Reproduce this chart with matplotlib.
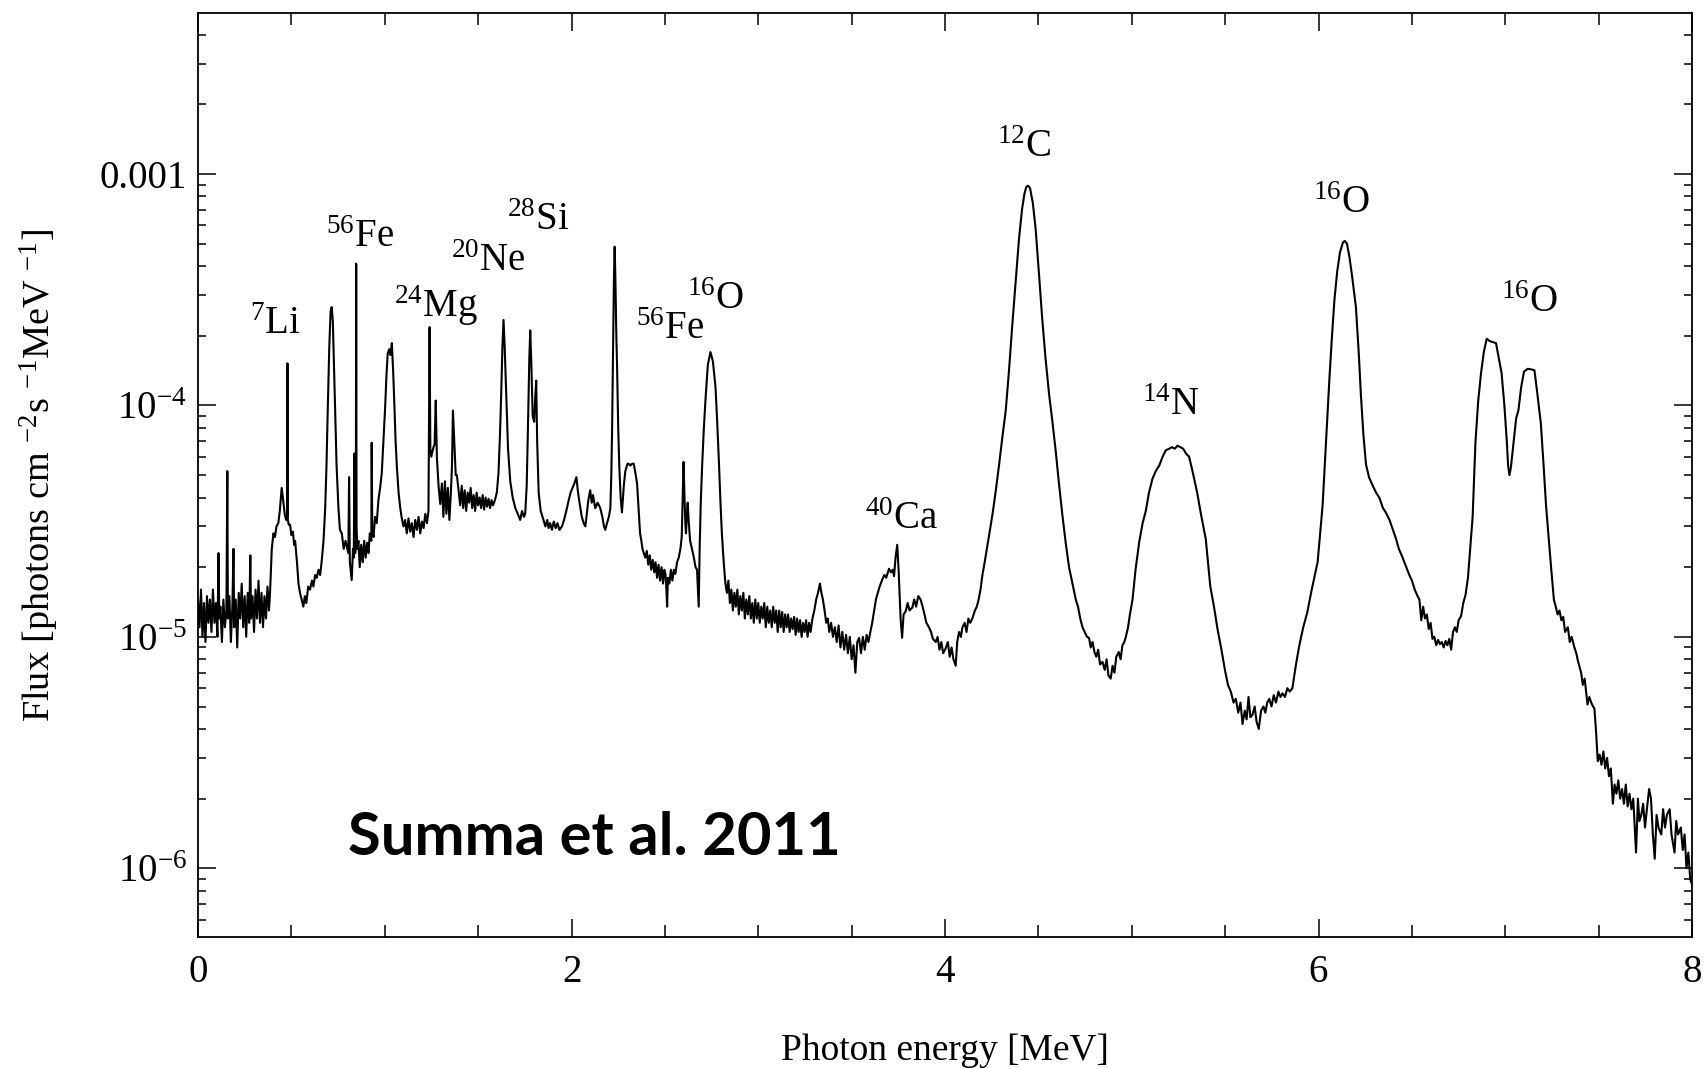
import numpy as np
import matplotlib
matplotlib.use("Agg")
import matplotlib.pyplot as plt
from matplotlib.ticker import LogLocator, MultipleLocator, NullFormatter

# spectrum: (energy [MeV], flux [1e-5 photons cm^-2 s^-1 MeV^-1])
seg_low = np.array([
    (0.000, 1.45), (0.008, 1.10), (0.016, 1.60), (0.024, 1.00), (0.032, 1.40),
    (0.040, 0.95), (0.048, 1.50), (0.056, 1.15), (0.064, 1.45), (0.072, 1.05),
    (0.080, 1.60), (0.088, 1.15), (0.096, 1.40), (0.104, 1.00), (0.110, 2.30),
    (0.114, 1.20), (0.120, 1.35), (0.128, 0.95), (0.136, 1.45), (0.144, 1.10),
    (0.152, 1.30), (0.157, 5.20), (0.160, 1.20), (0.168, 1.50), (0.176, 0.95),
    (0.184, 1.35), (0.190, 2.40), (0.194, 1.10), (0.202, 1.45), (0.210, 0.90),
    (0.218, 1.55), (0.226, 1.20), (0.234, 1.70), (0.242, 1.10), (0.250, 1.50),
    (0.258, 1.00), (0.266, 1.55), (0.274, 1.15), (0.280, 2.25), (0.284, 1.20),
    (0.292, 1.50), (0.300, 1.05), (0.308, 1.60), (0.316, 1.20), (0.324, 1.75),
    (0.332, 1.15), (0.340, 1.55), (0.348, 1.10), (0.356, 1.50), (0.364, 1.20),
    (0.372, 1.65), (0.380, 1.30),
])

seg_li_fe = np.array([
    (0.386, 1.57), (0.395, 2.40), (0.404, 2.80), (0.412, 2.70), (0.420, 3.00),
    (0.430, 3.10), (0.438, 3.50), (0.448, 4.40), (0.456, 3.90), (0.464, 3.40),
    (0.472, 3.20), (0.477, 3.30), (0.479, 15.2), (0.481, 3.20), (0.486, 3.05),
    (0.493, 3.05), (0.500, 2.75), (0.508, 2.85), (0.515, 2.50), (0.520, 2.60),
    (0.530, 2.10), (0.538, 1.70), (0.546, 1.55), (0.555, 1.45), (0.564, 1.35),
    (0.572, 1.50), (0.580, 1.40), (0.590, 1.65), (0.600, 1.60), (0.610, 1.75),
    (0.618, 1.65), (0.627, 1.85), (0.636, 1.80), (0.645, 1.95), (0.654, 1.85),
    (0.663, 2.15), (0.672, 2.60), (0.681, 3.60), (0.688, 5.50), (0.695, 9.80),
    (0.703, 18.0), (0.710, 25.5), (0.716, 26.6), (0.722, 23.0), (0.728, 15.0),
    (0.734, 9.80), (0.742, 5.50), (0.752, 3.60), (0.760, 2.90), (0.770, 2.80),
    (0.780, 2.40), (0.790, 2.60), (0.797, 2.45), (0.805, 2.30), (0.809, 4.90),
    (0.813, 2.10), (0.823, 1.76), (0.830, 2.40), (0.834, 2.20), (0.838, 6.20),
    (0.842, 2.30), (0.845, 3.00), (0.847, 41.0), (0.849, 3.00), (0.853, 2.40),
    (0.859, 2.60), (0.866, 2.00), (0.874, 2.50), (0.882, 2.10), (0.890, 2.60),
    (0.898, 2.20), (0.906, 2.55), (0.913, 2.30), (0.920, 2.80), (0.928, 2.60),
    (0.930, 6.90), (0.933, 2.90), (0.940, 2.70), (0.948, 3.30), (0.957, 3.10),
    (0.966, 3.90), (0.975, 4.40), (0.984, 5.10), (0.993, 7.00), (1.002, 9.80),
    (1.009, 13.5), (1.016, 16.8), (1.024, 17.5), (1.031, 16.5), (1.038, 18.6),
    (1.045, 14.0), (1.052, 9.80), (1.058, 7.00), (1.065, 5.40), (1.074, 4.20),
    (1.083, 3.60), (1.090, 3.30), (1.100, 3.00), (1.109, 3.20), (1.118, 2.80),
    (1.127, 3.25), (1.136, 2.85), (1.145, 3.10), (1.154, 2.70), (1.163, 3.20),
    (1.172, 2.90), (1.181, 3.30), (1.190, 2.80), (1.199, 3.15), (1.208, 2.95),
    (1.217, 3.40), (1.226, 3.10), (1.234, 3.50), (1.240, 21.8), (1.244, 6.50),
    (1.249, 6.00), (1.255, 6.30), (1.261, 6.60), (1.267, 6.80), (1.273, 10.5),
    (1.279, 6.00), (1.288, 4.50), (1.297, 3.75), (1.306, 4.60), (1.314, 3.30),
    (1.322, 4.70), (1.330, 3.40), (1.338, 4.40), (1.346, 3.20), (1.354, 4.20),
    (1.360, 5.50), (1.365, 9.50), (1.372, 7.00), (1.380, 5.00), (1.386, 5.00),
    (1.395, 4.30), (1.404, 3.70), (1.412, 4.50), (1.420, 3.60), (1.428, 4.30),
    (1.436, 3.50), (1.444, 4.20), (1.452, 3.80), (1.460, 4.40), (1.468, 3.60),
    (1.476, 4.10), (1.484, 3.50), (1.492, 4.20), (1.500, 3.70), (1.508, 4.00),
    (1.516, 3.60), (1.524, 4.10), (1.532, 3.55), (1.540, 4.00), (1.548, 3.65),
    (1.556, 3.95), (1.564, 3.60), (1.572, 3.90), (1.580, 3.70), (1.590, 3.90),
    (1.600, 4.20), (1.609, 5.10), (1.617, 7.50), (1.624, 11.6), (1.630, 18.0),
    (1.636, 23.4), (1.642, 18.0), (1.650, 11.6), (1.660, 6.50), (1.672, 4.70),
    (1.685, 4.00), (1.699, 3.60), (1.712, 3.40), (1.725, 3.20),
])

seg_si_o = np.array([
    (1.735, 3.50), (1.745, 3.30), (1.752, 3.40), (1.760, 4.50), (1.768, 9.00),
    (1.774, 16.0), (1.779, 21.1), (1.785, 15.0), (1.792, 9.00), (1.800, 8.50),
    (1.806, 11.0), (1.811, 12.8), (1.816, 7.00), (1.824, 4.20), (1.835, 3.50),
    (1.850, 3.20), (1.860, 3.00), (1.870, 3.20), (1.877, 2.95), (1.885, 3.10),
    (1.895, 2.90), (1.905, 3.15), (1.915, 2.95), (1.925, 3.10), (1.935, 2.90),
    (1.949, 3.00), (1.960, 3.20), (1.972, 3.50), (1.985, 3.90), (1.995, 4.20),
    (2.005, 4.40), (2.015, 4.60), (2.026, 4.90), (2.035, 4.20), (2.045, 3.70),
    (2.055, 3.30), (2.065, 3.10), (2.074, 3.00), (2.082, 3.40), (2.090, 3.90),
    (2.100, 4.30), (2.108, 3.80), (2.115, 4.10), (2.127, 3.60), (2.140, 3.80),
    (2.154, 3.60), (2.165, 3.30), (2.174, 3.00), (2.181, 2.90), (2.190, 3.10),
    (2.200, 3.30), (2.208, 3.60), (2.213, 5.00), (2.217, 7.60), (2.222, 16.0),
    (2.227, 35.0), (2.231, 48.5), (2.235, 35.0), (2.240, 20.0), (2.244, 14.6),
    (2.250, 8.00), (2.256, 5.40), (2.263, 4.00), (2.270, 3.45), (2.280, 4.50),
    (2.288, 5.20), (2.294, 5.40), (2.300, 5.60), (2.306, 5.60), (2.315, 5.50),
    (2.325, 5.60), (2.333, 5.60), (2.342, 5.10), (2.351, 4.60), (2.360, 3.50),
    (2.367, 2.80), (2.374, 2.60), (2.380, 2.40), (2.387, 2.30), (2.395, 2.20),
    (2.403, 2.35), (2.411, 2.05), (2.419, 2.25), (2.427, 1.95), (2.435, 2.15),
    (2.443, 1.90), (2.450, 2.10), (2.458, 1.80), (2.466, 2.05), (2.474, 1.75),
    (2.482, 2.00), (2.490, 1.70), (2.497, 1.95), (2.503, 1.87), (2.508, 1.60),
    (2.512, 1.35), (2.516, 1.80), (2.524, 1.70), (2.532, 1.95), (2.540, 1.75),
    (2.548, 1.95), (2.556, 1.87), (2.565, 2.10), (2.574, 2.20), (2.583, 2.40),
    (2.590, 2.70), (2.597, 4.50), (2.600, 5.70), (2.605, 4.00), (2.610, 3.00),
    (2.613, 2.80), (2.617, 3.30), (2.622, 3.80), (2.627, 3.20), (2.635, 2.60),
    (2.645, 2.40), (2.655, 2.20), (2.664, 2.00), (2.672, 1.95), (2.677, 1.60),
    (2.681, 1.35), (2.686, 2.40), (2.692, 3.80), (2.699, 5.40), (2.708, 7.80),
    (2.717, 10.5), (2.730, 15.0), (2.744, 17.0), (2.757, 15.5), (2.771, 12.0),
    (2.780, 8.50), (2.790, 5.50), (2.797, 3.90), (2.805, 2.80), (2.815, 2.10),
    (2.824, 1.70), (2.832, 1.55), (2.840, 1.75), (2.848, 1.40), (2.856, 1.60),
    (2.864, 1.30), (2.872, 1.55), (2.880, 1.35), (2.888, 1.60), (2.896, 1.25),
    (2.904, 1.50), (2.912, 1.30), (2.920, 1.55), (2.928, 1.20), (2.936, 1.45),
    (2.944, 1.25), (2.952, 1.50), (2.960, 1.20), (2.968, 1.40), (2.976, 1.15),
    (2.984, 1.45), (2.992, 1.20), (3.000, 1.40), (3.008, 1.15), (3.016, 1.35),
    (3.024, 1.20), (3.032, 1.40), (3.040, 1.10), (3.048, 1.35), (3.056, 1.15),
    (3.064, 1.30), (3.072, 1.10), (3.080, 1.35), (3.088, 1.15), (3.096, 1.30),
    (3.104, 1.05), (3.112, 1.30), (3.120, 1.10), (3.128, 1.28), (3.136, 1.05),
    (3.144, 1.25), (3.152, 1.10), (3.160, 1.25), (3.168, 1.05), (3.176, 1.20),
    (3.184, 1.08), (3.192, 1.22), (3.200, 1.02), (3.208, 1.20), (3.216, 1.05),
    (3.224, 1.18), (3.232, 1.00), (3.240, 1.15), (3.248, 1.05), (3.256, 1.18),
    (3.264, 1.00), (3.272, 1.15), (3.280, 1.05), (3.290, 1.20), (3.300, 1.30),
    (3.310, 1.45), (3.320, 1.55), (3.330, 1.70), (3.338, 1.55), (3.346, 1.45),
    (3.355, 1.30), (3.364, 1.15), (3.372, 1.20), (3.380, 1.05), (3.390, 1.15),
    (3.400, 1.00), (3.410, 1.10),
])

seg_ca_c_n = np.array([
    (3.420, 0.95), (3.430, 1.12), (3.440, 0.90), (3.450, 1.05), (3.460, 0.88),
    (3.470, 1.02), (3.480, 0.85), (3.490, 1.00), (3.500, 0.80), (3.510, 0.92),
    (3.520, 0.70), (3.530, 0.95), (3.540, 0.99), (3.550, 0.85), (3.560, 1.00),
    (3.570, 0.88), (3.580, 1.02), (3.590, 0.95), (3.600, 1.05), (3.610, 1.15),
    (3.620, 1.29), (3.630, 1.45), (3.640, 1.55), (3.650, 1.65), (3.664, 1.77),
    (3.675, 1.85), (3.685, 1.80), (3.700, 1.97), (3.710, 1.90), (3.720, 1.95),
    (3.727, 1.83), (3.735, 2.20), (3.744, 2.50), (3.752, 1.90), (3.762, 1.20),
    (3.770, 0.99), (3.778, 1.25), (3.789, 1.29), (3.800, 1.40), (3.810, 1.30),
    (3.825, 1.34), (3.835, 1.45), (3.845, 1.35), (3.857, 1.50), (3.869, 1.45),
    (3.880, 1.35), (3.890, 1.25), (3.900, 1.15), (3.914, 1.10), (3.925, 1.05),
    (3.935, 0.98), (3.950, 0.95), (3.960, 1.00), (3.970, 0.88), (3.980, 0.95),
    (3.990, 0.85), (4.003, 0.89), (4.015, 0.95), (4.025, 0.82), (4.035, 0.90),
    (4.045, 0.80), (4.057, 0.75), (4.065, 0.95), (4.075, 1.05), (4.085, 1.00),
    (4.093, 1.10), (4.105, 1.15), (4.115, 1.05), (4.125, 1.20), (4.135, 1.15),
    (4.146, 1.20), (4.160, 1.30), (4.170, 1.35), (4.180, 1.45), (4.190, 1.60),
    (4.200, 1.85), (4.210, 2.05), (4.218, 2.24), (4.236, 2.75), (4.254, 3.38),
    (4.272, 4.30), (4.290, 5.60), (4.308, 7.40), (4.325, 9.50), (4.342, 14.0),
    (4.360, 22.2), (4.378, 34.0), (4.396, 52.4), (4.412, 70.0), (4.425, 82.0),
    (4.435, 88.0), (4.444, 89.0), (4.455, 87.0), (4.470, 75.0), (4.485, 58.0),
    (4.502, 38.0), (4.520, 23.9), (4.538, 16.0), (4.557, 11.2), (4.575, 8.50),
    (4.593, 6.30), (4.610, 4.60), (4.628, 3.38), (4.646, 2.55), (4.664, 2.00),
    (4.682, 1.70), (4.700, 1.45), (4.712, 1.35), (4.724, 1.20), (4.736, 1.10),
    (4.748, 1.05), (4.760, 1.00), (4.771, 0.99), (4.780, 0.90), (4.790, 0.95),
    (4.800, 0.86), (4.810, 0.82), (4.820, 0.88), (4.830, 0.76), (4.843, 0.78),
    (4.855, 0.72), (4.865, 0.80), (4.875, 0.68), (4.887, 0.66), (4.897, 0.75),
    (4.907, 0.70), (4.917, 0.82), (4.930, 0.86), (4.940, 0.80), (4.950, 0.92),
    (4.960, 0.95), (4.968, 1.00), (4.980, 1.10), (4.990, 1.25), (5.004, 1.45),
    (5.020, 1.95), (5.040, 2.58), (5.058, 3.10), (5.075, 3.50), (5.092, 4.20),
    (5.110, 4.80), (5.128, 5.20), (5.147, 5.50), (5.165, 6.00), (5.182, 6.40),
    (5.200, 6.50), (5.215, 6.60), (5.230, 6.50), (5.245, 6.70), (5.260, 6.60),
    (5.275, 6.50), (5.290, 6.20), (5.307, 6.00), (5.325, 5.20), (5.350, 4.20),
    (5.370, 3.40), (5.396, 2.65), (5.420, 1.66), (5.440, 1.35), (5.459, 1.08),
    (5.480, 0.88), (5.500, 0.71), (5.515, 0.62), (5.530, 0.58), (5.545, 0.52),
    (5.557, 0.54), (5.570, 0.47), (5.582, 0.52), (5.593, 0.42), (5.605, 0.48),
    (5.615, 0.44), (5.625, 0.55), (5.635, 0.45), (5.646, 0.46), (5.658, 0.50),
    (5.668, 0.43), (5.680, 0.40), (5.692, 0.48), (5.705, 0.50), (5.715, 0.47),
    (5.725, 0.52), (5.736, 0.54), (5.748, 0.50), (5.760, 0.56), (5.772, 0.52),
    (5.785, 0.58), (5.796, 0.55), (5.807, 0.57), (5.820, 0.55), (5.833, 0.60),
    (5.846, 0.58), (5.860, 0.60), (5.878, 0.75), (5.896, 0.91), (5.918, 1.10),
    (5.940, 1.28), (5.960, 1.55), (5.980, 1.85), (5.995, 2.10), (6.010, 2.90),
    (6.022, 3.73), (6.040, 7.00), (6.058, 13.0), (6.072, 20.0), (6.085, 28.6),
    (6.100, 38.0), (6.115, 46.0), (6.130, 50.5), (6.140, 51.4), (6.152, 50.0),
    (6.165, 44.0), (6.180, 36.0), (6.200, 26.6), (6.215, 17.0), (6.227, 11.0),
    (6.240, 7.50), (6.254, 5.56), (6.270, 4.90), (6.290, 4.50), (6.308, 4.20),
    (6.325, 4.00), (6.345, 3.60), (6.360, 3.45), (6.380, 3.20), (6.398, 2.90),
    (6.415, 2.65), (6.430, 2.40), (6.450, 2.20), (6.470, 2.00), (6.486, 1.85),
    (6.500, 1.75), (6.515, 1.60), (6.530, 1.50), (6.540, 1.45), (6.550, 1.18),
])

seg_o_tail = np.array([
    (6.560, 1.35), (6.570, 1.20), (6.580, 1.25), (6.590, 1.08), (6.600, 1.15),
    (6.610, 0.98), (6.620, 1.00), (6.630, 0.92), (6.640, 0.97), (6.650, 0.93),
    (6.660, 0.95), (6.670, 0.90), (6.680, 0.96), (6.690, 0.92), (6.700, 0.98),
    (6.710, 0.88), (6.720, 1.05), (6.730, 1.10), (6.740, 1.05), (6.750, 1.18),
    (6.763, 1.23), (6.775, 1.40), (6.787, 1.52), (6.800, 1.80), (6.812, 2.40),
    (6.825, 3.30), (6.840, 6.90), (6.855, 10.5), (6.870, 13.8), (6.885, 17.0),
    (6.900, 19.4), (6.915, 19.0), (6.930, 18.8), (6.950, 18.6), (6.965, 16.0),
    (6.980, 13.8), (6.995, 10.0), (7.008, 7.00), (7.015, 5.50), (7.022, 5.00),
    (7.030, 5.40), (7.045, 7.00), (7.058, 8.80), (7.070, 9.50), (7.085, 12.0),
    (7.100, 14.0), (7.120, 14.4), (7.140, 14.3), (7.156, 14.2), (7.170, 11.5),
    (7.190, 8.40), (7.205, 5.50), (7.218, 3.70), (7.230, 2.80), (7.245, 2.00),
    (7.260, 1.45), (7.270, 1.35), (7.280, 1.25), (7.290, 1.30), (7.300, 1.18),
    (7.310, 1.22), (7.320, 1.05), (7.335, 1.10), (7.345, 0.95), (7.355, 1.00),
    (7.370, 0.90), (7.380, 0.85), (7.390, 0.78), (7.406, 0.70), (7.415, 0.62),
    (7.425, 0.66), (7.440, 0.51), (7.450, 0.55), (7.460, 0.52), (7.470, 0.50),
    (7.477, 0.49), (7.485, 0.40), (7.495, 0.29), (7.505, 0.31), (7.515, 0.28),
    (7.525, 0.32), (7.535, 0.27), (7.545, 0.30), (7.555, 0.25), (7.565, 0.27),
    (7.576, 0.19), (7.585, 0.23), (7.595, 0.21), (7.605, 0.24), (7.615, 0.20),
    (7.625, 0.22), (7.635, 0.19), (7.645, 0.23), (7.655, 0.185), (7.665, 0.21),
    (7.675, 0.18), (7.685, 0.20), (7.700, 0.117), (7.710, 0.20), (7.718, 0.16),
    (7.728, 0.17), (7.738, 0.19), (7.748, 0.15), (7.758, 0.18), (7.770, 0.22),
    (7.780, 0.20), (7.790, 0.14), (7.800, 0.11), (7.810, 0.17), (7.820, 0.15),
    (7.835, 0.14), (7.845, 0.18), (7.855, 0.15), (7.865, 0.17), (7.880, 0.18),
    (7.890, 0.14), (7.906, 0.117), (7.915, 0.16), (7.925, 0.14), (7.940, 0.15),
    (7.950, 0.12), (7.960, 0.14), (7.970, 0.10), (7.980, 0.117), (7.990, 0.09),
    (8.000, 0.085),
])

# line labels: text, energy, flux at baseline
line_names = [r"$^{7}$Li", r"$^{56}$Fe", r"$^{24}$Mg", r"$^{20}$Ne", r"$^{28}$Si",
              r"$^{56}$Fe", r"$^{16}$O", r"$^{40}$Ca", r"$^{12}$C", r"$^{14}$N",
              r"$^{16}$O", r"$^{16}$O"]
line_energy = [0.413, 0.867, 1.275, 1.554, 1.822, 2.527, 2.771, 3.767, 4.426,
               5.210, 6.125, 7.128]
line_flux = [2.04e-4, 4.84e-4, 2.41e-4, 3.81e-4, 5.73e-4, 1.94e-4, 2.61e-4,
             2.93e-5, 1.19e-3, 9.1e-5, 6.79e-4, 2.54e-4]

segments = [seg_low, seg_li_fe, seg_si_o, seg_ca_c_n, seg_o_tail]
energy = np.concatenate([s[:, 0] for s in segments])
flux = np.concatenate([s[:, 1] for s in segments]) * 1e-5

plt.rcParams['font.family'] = ['Liberation Serif', 'DejaVu Serif']
plt.rcParams['mathtext.fontset'] = 'custom'
plt.rcParams['mathtext.rm'] = 'Liberation Serif'
plt.rcParams['mathtext.it'] = 'Liberation Serif:italic'
plt.rcParams['mathtext.bf'] = 'Liberation Serif:bold'

fig = plt.figure(figsize=(17.04, 10.68), dpi=100)
ax = fig.add_axes([0.1162, 0.1227, 0.8768, 0.8651])

ax.plot(energy, flux, color='black', lw=1.5)

ax.set_yscale('log')
ax.set_xlim(0, 8)
ax.set_ylim(5.05e-7, 4.96e-3)

ax.set_xticks([0, 2, 4, 6, 8])
ax.xaxis.set_minor_locator(MultipleLocator(0.5))
ax.set_yticks([1e-6, 1e-5, 1e-4, 1e-3])
ax.set_yticklabels([r"$10^{-6}$", r"$10^{-5}$", r"$10^{-4}$", "0.001"])
ax.yaxis.set_minor_locator(LogLocator(base=10, subs=np.arange(2, 10) * 1.0, numticks=20))
ax.yaxis.set_minor_formatter(NullFormatter())

ax.tick_params(which='both', direction='in', top=True, right=True, width=1.1)
ax.tick_params(which='major', length=13, labelsize=28)
ax.tick_params(axis='x', which='major', pad=12)
ax.tick_params(axis='y', which='major', pad=8)
ax.tick_params(axis='x', which='minor', length=8.5)
ax.tick_params(axis='y', which='minor', length=6)
for sp in ax.spines.values():
    sp.set_linewidth(1.3)

ax.set_xlabel("Photon energy [MeV]", fontsize=27, labelpad=31)
ax.set_ylabel(r"Flux [photons cm $^{-2}$s $^{-1}$MeV $^{-1}$]", fontsize=27.5, labelpad=28)

for name, e, f in zip(line_names, line_energy, line_flux):
    ax.text(e, f, name, fontsize=28, ha='center', va='baseline')

ax.text(0.1005, 0.0887, "Summa et al. 2011", transform=ax.transAxes,
        fontsize=43, fontweight='bold', family=['Lato', 'DejaVu Sans'],
        ha='left', va='baseline')

fig.savefig("out.png", dpi=100)
